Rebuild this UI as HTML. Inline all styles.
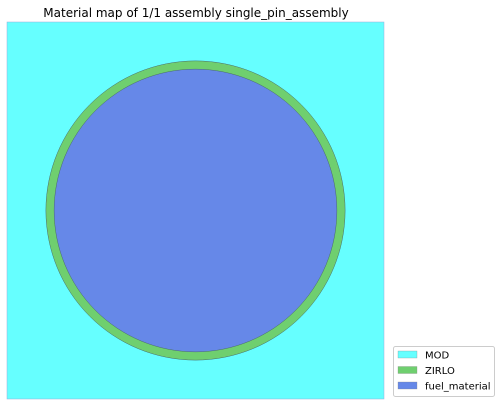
<!DOCTYPE html>
<html><head><meta charset="utf-8"><style>
body{margin:0;background:#fff;width:502px;height:407px;overflow:hidden;font-family:"DejaVu Sans","Liberation Sans",sans-serif}
</style></head><body>
<svg width="502" height="407">
<text x="196" y="17" text-anchor="middle" font-size="12" fill="#000" font-family="DejaVu Sans, sans-serif">Material map of 1/1 assembly single_pin_assembly</text>
<g id="plot"></g>
<g>
<rect x="393.5" y="346.5" width="101" height="50" rx="2" fill="#fff" stroke="#ccc"></rect>
<g id="leg"></g>
</g>
</svg>
<script>
const materials=["MOD","ZIRLO","fuel_material"];
const colors=["#66ffff","#6fcf6f","#6688e8"];
const radii=[0.63,0.5,0.4725];
const pitch=1.26;
const ns="http://www.w3.org/2000/svg";
const x0=7,y0=22,size=377,sc=size/pitch,cx=x0+size/2,cy=y0+size/2;
const plot=document.getElementById('plot');
const bg=document.createElementNS(ns,'rect');
bg.setAttribute('x',x0);bg.setAttribute('y',y0);bg.setAttribute('width',size);bg.setAttribute('height',size);
bg.setAttribute('fill',colors[0]);bg.setAttribute('stroke','#9ad');bg.setAttribute('stroke-width','0.5');


plot.appendChild(bg);
for(let i=1;i<materials.length;i++){
 const c=document.createElementNS(ns,'circle');
 c.setAttribute('cx',cx);c.setAttribute('cy',cy);c.setAttribute('r',radii[i]*sc);
 c.setAttribute('fill',colors[i]);c.setAttribute('stroke','#4a6a6a');c.setAttribute('stroke-width','0.5');
 
 
 plot.appendChild(c);
}
const leg=document.getElementById('leg');
materials.forEach((m,i)=>{
 const y=351+i*15.5;
 const r=document.createElementNS(ns,'rect');
 r.setAttribute('x',398);r.setAttribute('y',y);r.setAttribute('width',19);r.setAttribute('height',7);
 r.setAttribute('fill',colors[i]);r.setAttribute('stroke','#888');r.setAttribute('stroke-width','0.3');
 
 
 leg.appendChild(r);
 const t=document.createElementNS(ns,'text');
 t.setAttribute('x',425);t.setAttribute('y',y+7.5);t.setAttribute('font-size','10');t.textContent=m;
 
 
 leg.appendChild(t);
});
</script>
</body></html>
